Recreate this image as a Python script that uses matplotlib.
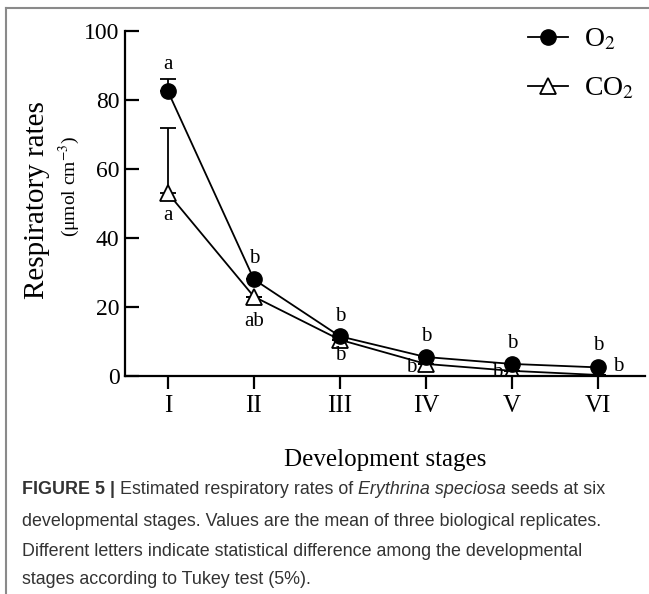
import matplotlib
matplotlib.use('Agg')
import matplotlib.pyplot as plt
from matplotlib.lines import Line2D

plt.rcParams['font.family'] = ['Liberation Serif', 'DejaVu Serif']
plt.rcParams['mathtext.fontset'] = 'stix'

stages = ['I', 'II', 'III', 'IV', 'V', 'VI']
o2 = [82.5, 28.0, 11.5, 5.5, 3.5, 2.5]
o2_err = [3.5, 0, 0, 0, 0, 0]
co2 = [53.0, 23.0, 10.5, 3.5, 1.5, 0.3]
co2_err = [19.0, 0, 0, 0, 0, 0]
o2_letters = ['a', 'b', 'b', 'b', 'b', 'b']
co2_letters = ['a', 'ab', 'b', 'b', 'b', 'b']

# letter offsets in pixels (layout only)
o2_off = [(0, 27), (0, 21), (0, 20), (0, 21), (0, 20), (0, 22)]
co2_off = [(0, -22), (0, -25), (0, -16), (-15, -4), (-15, -2), (20, 8)]

fig = plt.figure(figsize=(6.49, 5.94), dpi=100)
ax = fig.add_axes([125 / 649, 218 / 594, 520 / 649, 345 / 594])

x = list(range(len(stages)))
ax.errorbar(x, o2, yerr=[[0] * 6, o2_err], fmt='none', ecolor='black',
            elinewidth=1.3, capsize=6, capthick=1.3, zorder=1)
ax.errorbar(x, co2, yerr=[[0] * 6, co2_err], fmt='none', ecolor='black',
            elinewidth=1.3, capsize=6, capthick=1.3, zorder=1)
ax.plot(x, co2, color='black', lw=1.3, marker='^', ms=11, mfc='white',
        mec='black', mew=1.3, zorder=2)
ax.plot(x, o2, color='black', lw=1.3, marker='o', ms=11, mfc='black',
        mec='black', zorder=3)

for i in x:
    ax.annotate(o2_letters[i], (i, o2[i]), xytext=o2_off[i],
                textcoords='offset pixels', ha='center', va='center', fontsize=15)
    ax.annotate(co2_letters[i], (i, co2[i]), xytext=co2_off[i],
                textcoords='offset pixels', ha='center', va='center', fontsize=15)

ax.set_xlim(-0.5, 5.55)
ax.set_ylim(0, 100)
ax.set_yticks([0, 20, 40, 60, 80, 100])
ax.set_xticks(x)
ax.set_xticklabels(stages)
ax.spines['top'].set_visible(False)
ax.spines['right'].set_visible(False)
ax.spines['left'].set_linewidth(1.6)
ax.spines['bottom'].set_linewidth(1.6)
ax.tick_params(axis='y', direction='in', length=10, width=1.6, labelsize=17, pad=4)
ax.tick_params(axis='x', direction='out', length=9, width=1.6, labelsize=18, pad=5)

handles = [
    Line2D([], [], color='black', lw=1.3, marker='o', ms=11, mfc='black'),
    Line2D([], [], color='black', lw=1.3, marker='^', ms=11, mfc='white', mew=1.3),
]
ax.legend(handles, [r'O$_2$', r'CO$_2$'], loc='upper left',
          bbox_to_anchor=(378 / 520, 1.085), frameon=False, fontsize=20,
          handlelength=1.45, labelspacing=0.85, handletextpad=0.55)

fig.text(37 / 649, 1 - 200 / 594, 'Respiratory rates', rotation=90,
         ha='center', va='center', fontsize=21)
fig.text(69 / 649, 1 - 186 / 594, r'(μmol cm$^{-3}$)', rotation=90,
         ha='center', va='center', fontsize=14)
fig.text(385 / 649, 1 - 460 / 594, 'Development stages',
         ha='center', va='center', fontsize=18)

# frame lines of the figure panel
fig.add_artist(Line2D([6 / 649, 1], [1 - 8 / 594, 1 - 8 / 594],
                      color='#8a8a8a', lw=1.5, transform=fig.transFigure))
fig.add_artist(Line2D([6 / 649, 6 / 649], [0, 1 - 8 / 594],
                      color='#8a8a8a', lw=1.5, transform=fig.transFigure))

# caption with mixed styles
cap_font = ['Liberation Sans Narrow', 'Liberation Sans', 'DejaVu Sans']
cap_color = '#333333'
cap_size = 12.9
renderer = fig.canvas.get_renderer()


def run(parts, x0, y0):
    xp = x0
    for s, weight, style in parts:
        t = fig.text(xp / 649, 1 - y0 / 594, s, family=cap_font, fontsize=cap_size,
                     weight=weight, style=style, color=cap_color,
                     ha='left', va='center')
        bb = t.get_window_extent(renderer=renderer)
        xp += bb.width


run([('FIGURE 5 | ', 'bold', 'normal'),
     ('Estimated respiratory rates of ', 'normal', 'normal'),
     ('Erythrina speciosa', 'normal', 'italic'),
     (' seeds at six', 'normal', 'normal')], 22, 490)
run([('developmental stages. Values are the mean of three biological replicates.',
      'normal', 'normal')], 22, 521)
run([('Different letters indicate statistical difference among the developmental',
      'normal', 'normal')], 22, 551)
run([('stages according to Tukey test (5%).', 'normal', 'normal')], 22, 580)

fig.savefig('out.png', dpi=100)
